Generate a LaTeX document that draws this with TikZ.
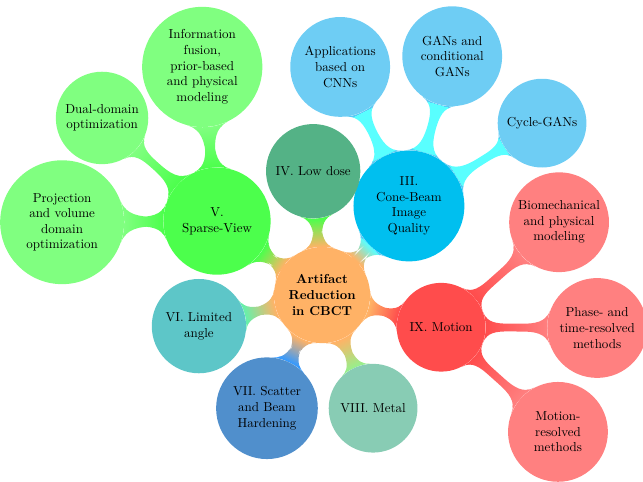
\documentclass[tikz,border=0pt]{standalone}
\usepackage{amsmath, amssymb}
\usepackage{xcolor}
\usepackage{tikz}
\usetikzlibrary{mindmap,backgrounds}

\definecolor{conebeam}{RGB}{0,191,239}
\definecolor{conebeamsub}{RGB}{110,205,244}
\definecolor{lowdose}{RGB}{84,178,134}
\definecolor{limited}{RGB}{93,198,200}
\definecolor{limitedbar}{RGB}{102,240,170}
\definecolor{scatter}{RGB}{80,143,204}
\definecolor{scatterbar}{RGB}{51,153,255}
\definecolor{metal}{RGB}{136,204,180}
\definecolor{metalbar}{RGB}{150,240,140}

\tikzset{
  topic/.style={circle, fill=#1, align=center, inner sep=1pt},
  rootidea/.style={topic=orange!60, font=\bfseries, minimum size=2.6cm},
}

\begin{document}
\begin{tikzpicture}
        \useasboundingbox (-8.71,-5.03) rectangle (8.68,7.98);

        \node[rootidea] (root) at (0,0) {Artifact\\Reduction\\in CBCT};

        \node[topic=conebeam, minimum size=3cm] (cbq) at (2.35,2.41) {III.\\Cone-Beam\\Image\\Quality};
        \node[topic=lowdose, minimum size=2.55cm] (low) at (-0.24,3.35) {IV. Low dose};
        \node[topic=green!70, minimum size=2.9cm] (sparse) at (-2.84,2.00) {V.\\Sparse-View};
        \node[topic=limited, minimum size=2.55cm] (limit) at (-3.33,-0.84) {VI. Limited\\angle};
        \node[topic=scatter, minimum size=2.75cm] (scat) at (-1.49,-3.06) {VII. Scatter\\and Beam\\Hardening};
        \node[topic=metal, minimum size=2.4cm] (metal) at (1.38,-3.06) {VIII. Metal};
        \node[topic=red!70, minimum size=2.4cm] (motion) at (3.22,-0.87) {IX. Motion};

        \node[topic=conebeamsub, minimum size=2.7cm] (cnn) at (0.49,6.17) {Applications\\based on\\CNNs};
        \node[topic=conebeamsub, minimum size=2.7cm] (gan) at (3.52,6.46) {GANs and\\conditional\\GANs};
        \node[topic=conebeamsub, minimum size=2.4cm] (cycle) at (5.95,4.65) {Cycle-GANs};

        \node[topic=green!50, minimum size=3.25cm] (fusion) at (-3.24,6.17) {Information\\fusion,\\prior-based\\and physical\\modeling};
        \node[topic=green!50, minimum size=2.5cm] (dual) at (-5.95,4.79) {Dual-domain\\optimization};
        \node[topic=green!50, minimum size=3.35cm] (proj) at (-7.03,1.97) {Projection\\and volume\\domain\\optimization};

        \node[topic=red!50, minimum size=2.7cm] (bio) at (6.41,1.97) {Biomechanical\\and physical\\modeling};
        \node[topic=red!50, minimum size=2.7cm] (phase) at (7.44,-0.89) {Phase- and\\time-resolved\\methods};
        \node[topic=red!50, minimum size=2.7cm] (mres) at (6.38,-3.70) {Motion-\\resolved\\methods};

        \begin{pgfonlayer}{background}
        \path (root) to[circle connection bar switch color=from (orange!60) to (cyan!65)] (cbq);
        \path (root) to[circle connection bar switch color=from (orange!60) to (green!70)] (low);
        \path (root) to[circle connection bar switch color=from (orange!60) to (green!70)] (sparse);
        \path (root) to[circle connection bar switch color=from (orange!60) to (limitedbar)] (limit);
        \path (root) to[circle connection bar switch color=from (orange!60) to (scatterbar)] (scat);
        \path (root) to[circle connection bar switch color=from (orange!60) to (metalbar)] (metal);
        \path (root) to[circle connection bar switch color=from (orange!60) to (red!70)] (motion);

        \path (cbq) to[circle connection bar switch color=from (cyan!65) to (cyan!65)] (cnn);
        \path (cbq) to[circle connection bar switch color=from (cyan!65) to (cyan!65)] (gan);
        \path (cbq) to[circle connection bar switch color=from (cyan!65) to (cyan!65)] (cycle);

        \path (sparse) to[circle connection bar switch color=from (green!70) to (green!50)] (fusion);
        \path (sparse) to[circle connection bar switch color=from (green!70) to (green!50)] (dual);
        \path (sparse) to[circle connection bar switch color=from (green!70) to (green!50)] (proj);

        \path (motion) to[circle connection bar switch color=from (red!70) to (red!50)] (bio);
        \path (motion) to[circle connection bar switch color=from (red!70) to (red!50)] (phase);
        \path (motion) to[circle connection bar switch color=from (red!70) to (red!50)] (mres);
        \end{pgfonlayer}
    \end{tikzpicture}
\end{document}
